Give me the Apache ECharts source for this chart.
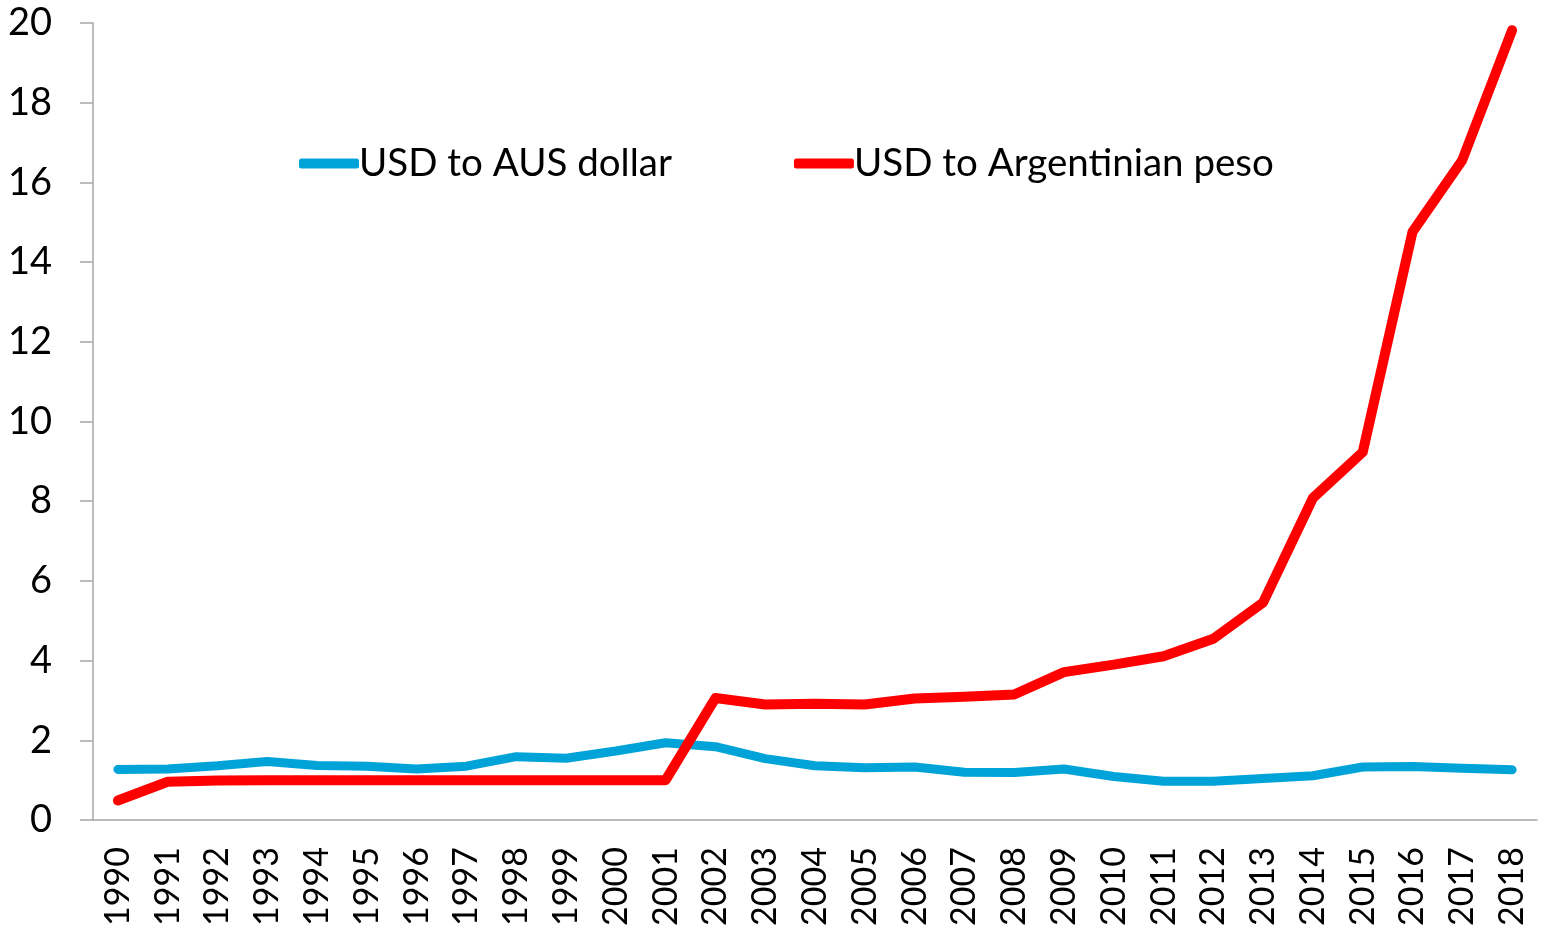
<!DOCTYPE html>
<html>
<head>
<meta charset="utf-8">
<title>USD exchange rates</title>
<script src="https://cdn.jsdelivr.net/npm/echarts@6/dist/echarts.min.js"></script>
<style>
  html, body { margin: 0; padding: 0; background: #fff; }
  #chart { width: 1541px; height: 925px; }
</style>
</head>
<body>
<div id="chart"></div>
<script>
var years = ['1990', '1991', '1992', '1993', '1994', '1995', '1996', '1997', '1998', '1999',
  '2000', '2001', '2002', '2003', '2004', '2005', '2006', '2007', '2008', '2009',
  '2010', '2011', '2012', '2013', '2014', '2015', '2016', '2017', '2018']

// USD -> AUD
var audRate = [1.27, 1.28, 1.36, 1.47, 1.37, 1.35, 1.28, 1.35, 1.59, 1.55,
  1.73, 1.94, 1.84, 1.54, 1.36, 1.31, 1.33, 1.20, 1.19, 1.28,
  1.09, 0.97, 0.97, 1.04, 1.11, 1.33, 1.34, 1.30, 1.26]

// USD -> ARS
var arsRate = [0.49, 0.96, 0.99, 1.00, 1.00, 1.00, 1.00, 1.00, 1.00, 1.00,
  1.00, 1.00, 3.06, 2.90, 2.92, 2.90, 3.05, 3.09, 3.15, 3.71,
  3.90, 4.11, 4.55, 5.46, 8.08, 9.23, 14.76, 16.56, 19.82]

var seriesNames = ['USD to AUS dollar', 'USD to Argentinian peso']

var font = 'Lato, "Open Sans", sans-serif'
var axisGray = '#a6a6a6'

var chart = echarts.init(document.getElementById('chart'))
chart.setOption({
  animation: false,
  backgroundColor: '#fff',
  textStyle: { fontFamily: font, color: '#000' },
  legend: {
    left: 294,
    top: 139,
    itemGap: 122,
    itemWidth: 60,
    itemHeight: 10,
    icon: 'roundRect',
    textStyle: { fontFamily: font, fontSize: 38.5, color: '#000', padding: [0, 0, 0, -5] },
    data: seriesNames
  },
  grid: {
    left: 93,
    right: 4,
    top: 23,
    bottom: 105,
    outerBoundsMode: 'none'
  },
  xAxis: {
    type: 'category',
    data: years,
    boundaryGap: true,
    axisLine: { lineStyle: { color: axisGray, width: 1.5 } },
    axisTick: { length: 12, lineStyle: { color: axisGray, width: 1.5 } },
    axisLabel: {
      rotate: 90,
      interval: 0,
      margin: 27,
      fontSize: 34,
      color: '#000',
      fontFamily: font
    }
  },
  yAxis: {
    type: 'value',
    min: 0,
    max: 20,
    interval: 2,
    splitLine: { show: false },
    axisLine: { show: true, lineStyle: { color: axisGray, width: 1.5 } },
    axisTick: { show: true, length: 13, lineStyle: { color: axisGray, width: 1.5 } },
    axisLabel: { margin: 41, fontSize: 38, color: '#000', fontFamily: font }
  },
  series: [{
    name: seriesNames[0],
    type: 'line',
    data: audRate,
    symbol: 'none',
    color: '#00a3d7',
    lineStyle: { width: 9, cap: 'round', join: 'round' },
    z: 2
  }, {
    name: seriesNames[1],
    type: 'line',
    data: arsRate,
    symbol: 'none',
    color: '#ff0000',
    lineStyle: { width: 10, cap: 'round', join: 'round' },
    z: 3
  }]
})
</script>
</body>
</html>
